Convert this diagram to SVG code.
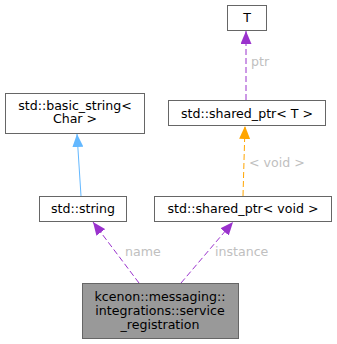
<svg xmlns="http://www.w3.org/2000/svg" width="337" height="344" viewBox="0 0 337 344">
<style>
  .node rect { fill: #ffffff; stroke: #666666; stroke-width: 1; }
  .node.main rect { fill: #999999; }
  .node text { font-family: "DejaVu Sans", sans-serif; font-size: 12.6px; fill: #000000; text-anchor: middle; }
  .edge path { fill: none; stroke-width: 1; }
  .lbl { font-family: "DejaVu Sans", sans-serif; font-size: 12.6px; fill: #c0c0c0; }
  .purple { stroke: #9a32cd; stroke-dasharray: 6,3; }
  .orange { stroke: #ffa500; stroke-dasharray: 6,3; }
  .blue { stroke: #63b8ff; }
</style>
<defs>
  <marker id="ah-purple" viewBox="0 0 13 11" refX="13" refY="5.5" markerWidth="13" markerHeight="11" markerUnits="userSpaceOnUse" orient="auto">
    <path d="M0,0 L13,5.5 L0,11 Z" fill="#9a32cd"/>
  </marker>
  <marker id="ah-orange" viewBox="0 0 13 11" refX="13" refY="5.5" markerWidth="13" markerHeight="11" markerUnits="userSpaceOnUse" orient="auto">
    <path d="M0,0 L13,5.5 L0,11 Z" fill="#ffa500"/>
  </marker>
  <marker id="ah-blue" viewBox="0 0 13 11" refX="13" refY="5.5" markerWidth="13" markerHeight="11" markerUnits="userSpaceOnUse" orient="auto">
    <path d="M0,0 L13,5.5 L0,11 Z" fill="#63b8ff"/>
  </marker>
</defs>

<g id="edges">
  <g class="edge">
    <path class="purple" d="M246,100 L246,31" marker-end="url(#ah-purple)"/>
    <text class="lbl" x="251" y="66">ptr</text>
  </g>
  <g class="edge">
    <path class="blue" d="M81,196 L77,134" marker-end="url(#ah-blue)"/>
  </g>
  <g class="edge">
    <path class="orange" d="M243,196 L245,126" marker-end="url(#ah-orange)"/>
    <text class="lbl" x="249" y="167">&lt; void &gt;</text>
  </g>
  <g class="edge">
    <path class="purple" d="M139,283 L93,222" marker-end="url(#ah-purple)"/>
    <text class="lbl" x="125" y="256">name</text>
  </g>
  <g class="edge">
    <path class="purple" d="M181,283 L233,222" marker-end="url(#ah-purple)"/>
    <text class="lbl" x="215" y="256">instance</text>
  </g>
</g>

<g id="node-T" class="node">
  <rect x="227.5" y="5.5" width="39" height="25"/>
  <text x="247" y="22">T</text>
</g>
<g id="node-shared_ptr_T" class="node">
  <rect x="168.5" y="100.5" width="157" height="25"/>
  <text x="247" y="117.5">std::shared_ptr&lt; T &gt;</text>
</g>
<g id="node-basic_string" class="node">
  <rect x="5.5" y="93.5" width="139" height="40"/>
  <text x="75" y="109.5">std::basic_string&lt;</text>
  <text x="75" y="123">Char &gt;</text>
</g>
<g id="node-string" class="node">
  <rect x="39.5" y="196.5" width="87" height="25"/>
  <text x="83" y="212.5">std::string</text>
</g>
<g id="node-shared_ptr_void" class="node">
  <rect x="154.5" y="196.5" width="177" height="25"/>
  <text x="243" y="212.5">std::shared_ptr&lt; void &gt;</text>
</g>
<g id="node-service_registration" class="node main">
  <rect x="82.5" y="283.5" width="156" height="55"/>
  <text x="160" y="301">kcenon::messaging::</text>
  <text x="160" y="315">integrations::service</text>
  <text x="160" y="329">_registration</text>
</g>
</svg>
